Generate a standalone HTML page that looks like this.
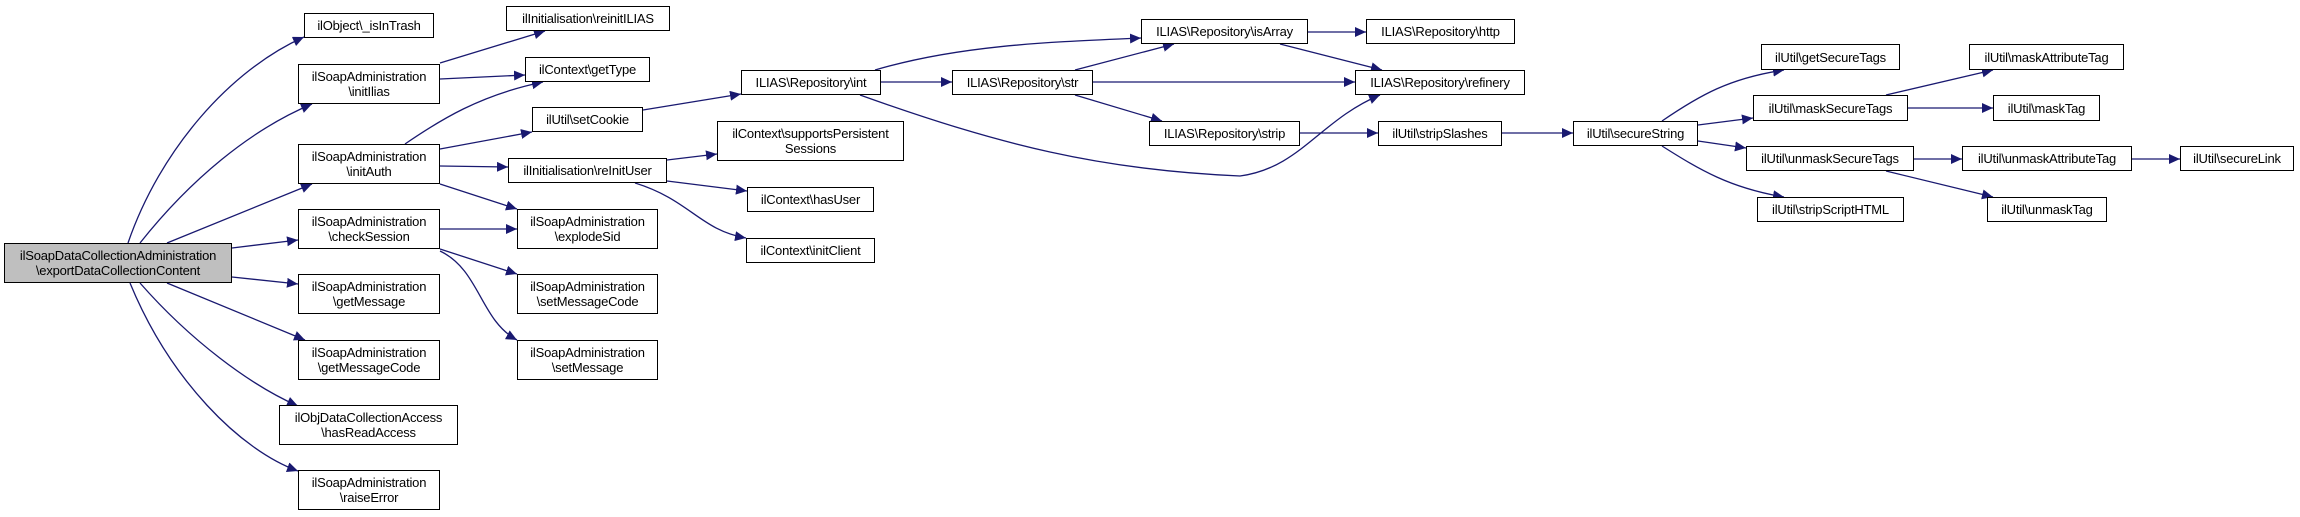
<!DOCTYPE html>
<html><head><meta charset="utf-8"><style>
html,body{margin:0;padding:0;background:#fff;}
body{width:2300px;height:517px;position:relative;overflow:hidden;font-family:"Liberation Sans",sans-serif;}
.n{position:absolute;box-sizing:border-box;border:1.5px solid #000;background:#fff;font-size:13px;line-height:15px;color:#000;text-align:center;display:flex;align-items:center;justify-content:center;white-space:nowrap;letter-spacing:-0.2px;}
.g{background:#bfbfbf;}
svg{position:absolute;left:0;top:0;}
</style></head><body>
<svg width="2300" height="517" viewBox="0 0 2300 517">
<defs><marker id="a" markerUnits="userSpaceOnUse" markerWidth="12" markerHeight="10" refX="11" refY="5" orient="auto"><path d="M0,0 L11,5 L0,10 Z" fill="#191970"/></marker></defs>
<g fill="none" stroke="#191970" stroke-width="1.3" marker-end="url(#a)">
<path d="M128,243 C160,150 230,70 304,37"/>
<path d="M140,243 C190,180 250,130 312,104"/>
<path d="M167,243 L312,184"/>
<path d="M232,248 L298,240"/>
<path d="M232,277 L298,284"/>
<path d="M167,283 L305,340"/>
<path d="M140,283 C190,340 250,385 298,406"/>
<path d="M130,283 C170,380 240,450 298,471"/>
<path d="M440,63 L545,31"/>
<path d="M440,79 L525,75"/>
<path d="M405,144 C440,120 480,95 543,82"/>
<path d="M440,149 L532,132"/>
<path d="M440,166 L508,167"/>
<path d="M440,184 L517,209"/>
<path d="M440,229 L517,229"/>
<path d="M440,249 L517,274"/>
<path d="M440,251 C480,270 480,320 517,340"/>
<path d="M643,110 L741,94"/>
<path d="M667,160 L717,154"/>
<path d="M667,181 L747,191"/>
<path d="M635,183 C690,200 700,230 746,238"/>
<path d="M875,70 C960,45 1050,42 1141,38"/>
<path d="M881,82 L952,82"/>
<path d="M860,95 C1000,145 1100,170 1240,176 C1300,168 1320,120 1380,95"/>
<path d="M1075,70 L1174,44"/>
<path d="M1093,82 L1355,82"/>
<path d="M1075,95 L1162,121"/>
<path d="M1308,32 L1366,32"/>
<path d="M1280,44 L1382,70"/>
<path d="M1300,133 L1378,133"/>
<path d="M1502,133 L1573,133"/>
<path d="M1662,121 C1700,95 1730,78 1784,70"/>
<path d="M1698,125 L1753,118"/>
<path d="M1698,141 L1746,148"/>
<path d="M1662,146 C1700,170 1730,188 1784,197"/>
<path d="M1886,95 L1993,70"/>
<path d="M1908,108 L1993,108"/>
<path d="M1914,159 L1962,159"/>
<path d="M1886,171 L1993,197"/>
<path d="M2132,159 L2180,159"/>
</g>
</svg>
<div class="n g" style="left:4px;top:243px;width:228px;height:40px">ilSoapDataCollectionAdministration<br>\exportDataCollectionContent</div>
<div class="n" style="left:304px;top:13px;width:130px;height:25px">ilObject\_isInTrash</div>
<div class="n" style="left:298px;top:64px;width:142px;height:40px">ilSoapAdministration<br>\initIlias</div>
<div class="n" style="left:298px;top:144px;width:142px;height:40px">ilSoapAdministration<br>\initAuth</div>
<div class="n" style="left:298px;top:209px;width:142px;height:40px">ilSoapAdministration<br>\checkSession</div>
<div class="n" style="left:298px;top:274px;width:142px;height:40px">ilSoapAdministration<br>\getMessage</div>
<div class="n" style="left:298px;top:340px;width:142px;height:40px">ilSoapAdministration<br>\getMessageCode</div>
<div class="n" style="left:279px;top:405px;width:179px;height:40px">ilObjDataCollectionAccess<br>\hasReadAccess</div>
<div class="n" style="left:298px;top:470px;width:142px;height:40px">ilSoapAdministration<br>\raiseError</div>
<div class="n" style="left:506px;top:6px;width:164px;height:25px">ilInitialisation\reinitILIAS</div>
<div class="n" style="left:525px;top:57px;width:125px;height:25px">ilContext\getType</div>
<div class="n" style="left:532px;top:107px;width:111px;height:25px">ilUtil\setCookie</div>
<div class="n" style="left:508px;top:158px;width:159px;height:25px">ilInitialisation\reInitUser</div>
<div class="n" style="left:517px;top:209px;width:141px;height:40px">ilSoapAdministration<br>\explodeSid</div>
<div class="n" style="left:517px;top:274px;width:141px;height:40px">ilSoapAdministration<br>\setMessageCode</div>
<div class="n" style="left:517px;top:340px;width:141px;height:40px">ilSoapAdministration<br>\setMessage</div>
<div class="n" style="left:741px;top:70px;width:140px;height:25px">ILIAS\Repository\int</div>
<div class="n" style="left:717px;top:121px;width:187px;height:40px">ilContext\supportsPersistent<br>Sessions</div>
<div class="n" style="left:747px;top:187px;width:127px;height:25px">ilContext\hasUser</div>
<div class="n" style="left:746px;top:238px;width:129px;height:25px">ilContext\initClient</div>
<div class="n" style="left:952px;top:70px;width:141px;height:25px">ILIAS\Repository\str</div>
<div class="n" style="left:1141px;top:19px;width:167px;height:25px">ILIAS\Repository\isArray</div>
<div class="n" style="left:1366px;top:19px;width:149px;height:25px">ILIAS\Repository\http</div>
<div class="n" style="left:1355px;top:70px;width:170px;height:25px">ILIAS\Repository\refinery</div>
<div class="n" style="left:1149px;top:121px;width:151px;height:25px">ILIAS\Repository\strip</div>
<div class="n" style="left:1378px;top:121px;width:124px;height:25px">ilUtil\stripSlashes</div>
<div class="n" style="left:1573px;top:121px;width:125px;height:25px">ilUtil\secureString</div>
<div class="n" style="left:1761px;top:44px;width:139px;height:26px">ilUtil\getSecureTags</div>
<div class="n" style="left:1753px;top:95px;width:155px;height:26px">ilUtil\maskSecureTags</div>
<div class="n" style="left:1746px;top:146px;width:168px;height:25px">ilUtil\unmaskSecureTags</div>
<div class="n" style="left:1757px;top:197px;width:147px;height:25px">ilUtil\stripScriptHTML</div>
<div class="n" style="left:1969px;top:44px;width:155px;height:26px">ilUtil\maskAttributeTag</div>
<div class="n" style="left:1993px;top:95px;width:107px;height:26px">ilUtil\maskTag</div>
<div class="n" style="left:1962px;top:146px;width:170px;height:25px">ilUtil\unmaskAttributeTag</div>
<div class="n" style="left:1987px;top:197px;width:120px;height:25px">ilUtil\unmaskTag</div>
<div class="n" style="left:2180px;top:146px;width:114px;height:25px">ilUtil\secureLink</div>
</body></html>
